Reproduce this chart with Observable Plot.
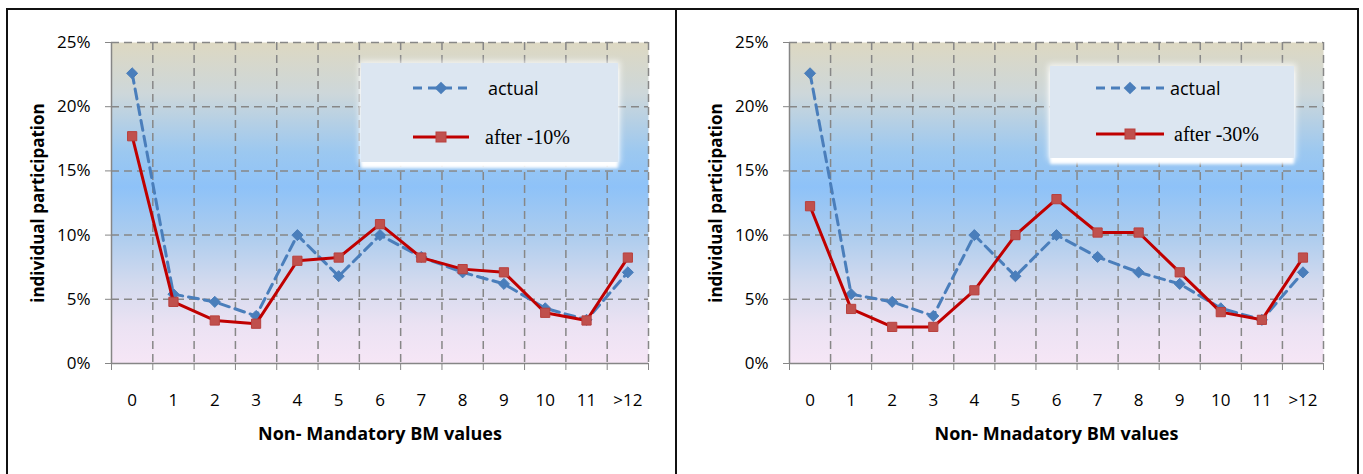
<!DOCTYPE html>
<html>
<head>
<meta charset="utf-8">
<script src="https://cdn.jsdelivr.net/npm/d3@7"></script>
<script src="https://cdn.jsdelivr.net/npm/@observablehq/plot@0.6"></script>
<style>
  body { margin: 0; background: #fff; }
  #fig { position: relative; width: 1363px; height: 474px; overflow: hidden; font-family: "Open Sans", sans-serif; }
  #outline { position: absolute; left: 6px; top: 8px; width: 1349px; height: 470px;
             border-top: 2px solid #111; border-left: 2px solid #111; border-right: 2px solid #111; }
  #divider { position: absolute; left: 675px; top: 8px; width: 2px; height: 470px; background: #111; }
  .chart { position: absolute; top: 10px; }
  .legend { position: absolute; background: #dce6f1;
            box-shadow: 0 6px 3px #fff, 0 0 6px 2px rgba(255,255,255,0.75); }
  .legend .item { position: absolute; left: 0; width: 100%; height: 30px; }
  .legend svg { position: absolute; top: 0; }
  .legend .lbl { position: absolute; top: 0; line-height: 30px; white-space: nowrap; color: #000; }
  .legend .sans { font-family: "Open Sans", sans-serif; font-size: 18px; }
  .legend .serif { font-family: "Liberation Serif", "Times New Roman", serif; font-size: 20px; }
</style>
</head>
<body>
<div id="fig">
  <div id="outline"></div>
  <div id="divider"></div>
</div>
<script>
// Number of non-mandatory BM values per individual
const categories = ["0", "1", "2", "3", "4", "5", "6", "7", "8", "9", "10", "11", ">12"];
// Share of individuals (%) — observed distribution
const actual = [22.6, 5.4, 4.8, 3.7, 10.0, 6.8, 10.0, 8.3, 7.1, 6.2, 4.3, 3.4, 7.1];
// Share of individuals (%) after a 10% reduction
const after10 = [17.7, 4.8, 3.35, 3.1, 8.0, 8.25, 10.85, 8.25, 7.35, 7.1, 3.95, 3.35, 8.25];
// Share of individuals (%) after a 30% reduction
const after30 = [12.25, 4.25, 2.85, 2.85, 5.7, 10.0, 12.8, 10.2, 10.2, 7.1, 4.0, 3.4, 8.25];
// y axis ticks (%)
const yTicks = [0, 5, 10, 15, 20, 25];

const BLUE = "#4a7ebb";
const RED_LINE = "#c00000";
const RED_MARK = "#c0504d";
const GRID = "#878787";

const fig = document.getElementById("fig");

function panel({id, left, width, marginLeft, marginRight, after, xTitle, legendBox, legendText}) {
  const rows = categories.map((c, i) => ({i, c, actual: actual[i], after: after[i]}));
  // category slots are centred on integers; boundaries lie halfway between
  const bounds = [-0.5, ...rows.map(d => d.i + 0.5)];

  const svg = Plot.plot({
    width, height: 464,
    marginLeft, marginRight, marginTop: 32, marginBottom: 111,
    style: {fontFamily: "Open Sans, sans-serif", fontSize: "17px", color: "#000", background: "transparent", overflow: "visible"},
    x: {type: "linear", domain: [-0.5, categories.length - 0.5], axis: null},
    y: {domain: [0, 25], axis: null},
    marks: [
      Plot.frame({fill: `url(#${id}-bg)`, stroke: "none"}),
      Plot.gridY(yTicks.slice(1), {stroke: GRID, strokeOpacity: 1, strokeWidth: 1.5, strokeDasharray: "8,5"}),
      Plot.gridX(bounds.slice(1), {stroke: GRID, strokeOpacity: 1, strokeWidth: 1.5, strokeDasharray: "8,5"}),
      Plot.ruleY([0], {stroke: "#868686", strokeWidth: 1.5}),
      Plot.ruleX([-0.5], {stroke: "#868686", strokeWidth: 1.5}),
      Plot.axisY(yTicks, {anchor: "left", tickSize: 6, tickPadding: 15, stroke: "#868686",
        tickFormat: d => d + "%", fontSize: 17,
        label: "individual participation", labelArrow: "none", labelAnchor: "center", labelOffset: 80}),
      Plot.axisX(bounds, {anchor: "bottom", tickSize: 7, stroke: "#868686", tickFormat: () => "", label: null}),
      Plot.axisX(rows.map(d => d.i), {anchor: "bottom", tickSize: 0, tickPadding: 30,
        tickFormat: i => categories[i], fontSize: 17,
        label: xTitle, labelArrow: "none", labelAnchor: "center", labelOffset: 76}),
      Plot.lineY(rows, {x: "i", y: "actual", stroke: BLUE, strokeWidth: 3, strokeDasharray: "10,6"}),
      Plot.dot(rows, {x: "i", y: "actual", symbol: "diamond2", r: 5, fill: BLUE, stroke: BLUE, strokeWidth: 1}),
      Plot.lineY(rows, {x: "i", y: "after", stroke: RED_LINE, strokeWidth: 3}),
      Plot.dot(rows, {x: "i", y: "after", symbol: "square", r: 5.2, fill: RED_MARK, stroke: "#b8413e", strokeWidth: 1})
    ]
  });

  // vertical background wash of the plot area
  const grad = d3.select(svg).insert("defs", ":first-child")
    .append("linearGradient").attr("id", `${id}-bg`)
    .attr("x1", 0).attr("y1", 0).attr("x2", 0).attr("y2", 1);
  [[0, "#ddd8c2"], [0.16, "#cdd7da"], [0.34, "#9cc8f0"], [0.45, "#8ec2f8"],
   [0.6, "#acccee"], [0.75, "#d3daee"], [0.88, "#ebe2f3"], [1, "#f6e6f6"]]
    .forEach(([o, c]) => grad.append("stop").attr("offset", o).attr("stop-color", c));

  // bold axis titles, without direction arrows
  const strip = function () { return this.textContent.replace(/\s*[→←↑↓]\s*/g, "").trim(); };
  d3.select(svg).selectAll("[aria-label='y-axis label'] text")
    .attr("font-weight", "bold").attr("font-size", 17).text(strip);
  d3.select(svg).selectAll("[aria-label='x-axis label'] text")
    .attr("font-weight", "bold").attr("font-size", 18).text(strip);

  svg.classList.add("chart");
  svg.style.left = left + "px";
  fig.appendChild(svg);

  // legend
  const lg = document.createElement("div");
  lg.className = "legend";
  Object.assign(lg.style, {left: legendBox.x + "px", top: legendBox.y + "px",
    width: legendBox.w + "px", height: legendBox.h + "px"});
  const items = [
    {cy: legendBox.r1, dash: "9,6", stroke: BLUE, mark: "diamond", text: "actual", cls: "sans", tx: legendText.t1},
    {cy: legendBox.r2, dash: null, stroke: RED_LINE, mark: "square", text: legendText.label, cls: "serif", tx: legendText.t2}
  ];
  for (const it of items) {
    const d = document.createElement("div");
    d.className = "item";
    d.style.top = (it.cy - 15) + "px";
    const sx = legendText.sx, sw = legendText.sw;
    const m = it.mark === "diamond"
      ? `<rect x="${sw / 2 - 4.5}" y="10.5" width="9" height="9" fill="${BLUE}" transform="rotate(45 ${sw / 2} 15)"/>`
      : `<rect x="${sw / 2 - 5}" y="10" width="10" height="10" fill="${RED_MARK}" stroke="#b8413e"/>`;
    d.innerHTML =
      `<svg width="${sw}" height="30" style="left:${sx}px">` +
      `<line x1="0" x2="${sw}" y1="15" y2="15" stroke="${it.stroke}" stroke-width="3" ${it.dash ? `stroke-dasharray="${it.dash}"` : ""}/>` +
      m + `</svg><span class="lbl ${it.cls}" style="left:${it.tx}px">${it.text}</span>`;
    lg.appendChild(d);
  }
  fig.appendChild(lg);
}

panel({
  id: "p1", left: 7, width: 669, marginLeft: 104, marginRight: 28, after: after10,
  xTitle: "Non- Mandatory BM values",
  legendBox: {x: 361, y: 63, w: 257, h: 99, r1: 25, r2: 74},
  legendText: {label: "after -10%", t1: 127, t2: 124, sx: 52, sw: 56}
});
panel({
  id: "p2", left: 678, width: 678, marginLeft: 111, marginRight: 33, after: after30,
  xTitle: "Non- Mnadatory BM values",
  legendBox: {x: 1050, y: 66, w: 244, h: 92, r1: 22, r2: 68},
  legendText: {label: "after -30%", t1: 120, t2: 124, sx: 46, sw: 68}
});
</script>
</body>
</html>
